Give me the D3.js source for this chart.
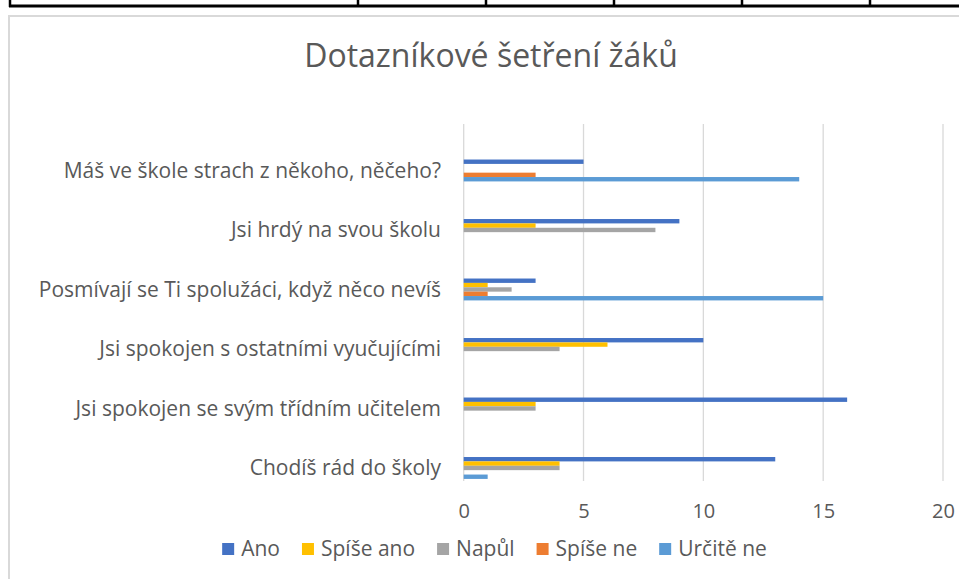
<!DOCTYPE html>
<html>
<head>
<meta charset="utf-8">
<script src="https://cdn.jsdelivr.net/npm/d3@7"></script>
<style>
  body { margin: 0; background: #fff; }
  svg text { font-family: "Open Sans", "Noto Sans", sans-serif; fill: #595959; }
</style>
</head>
<body>
<div id="chart"></div>
<script>
// categories, top to bottom
var categories = [
    "Máš ve škole strach z někoho, něčeho?",
    "Jsi hrdý na svou školu",
    "Posmívají se Ti spolužáci, když něco nevíš",
    "Jsi spokojen s ostatními vyučujícími",
    "Jsi spokojen se svým třídním učitelem",
    "Chodíš rád do školy"
];
var seriesNames = ["Ano", "Spíše ano", "Napůl", "Spíše ne", "Určitě ne"];
var ano      = [5, 9, 3, 10, 16, 13];
var spiseAno = [0, 3, 1, 6, 3, 4];
var napul    = [0, 8, 2, 4, 3, 4];
var spiseNe  = [3, 0, 1, 0, 0, 0];
var urciteNe = [14, 0, 15, 0, 0, 1];
var xTicks = [0, 5, 10, 15, 20];
var colors = ["#4472C4", "#FFC000", "#A5A5A5", "#ED7D31", "#5B9BD5"];
var title = "Dotazníkové šetření žáků";

var seriesValues = [ano, spiseAno, napul, spiseNe, urciteNe];

var svgWidth = 959, svgHeight = 579;
var svg = d3.select("#chart").append("svg")
    .attr("width", svgWidth)
    .attr("height", svgHeight);

// table border above the chart (from the document around it)
svg.append("line")
    .attr("x1", 9).attr("x2", svgWidth)
    .attr("y1", 6).attr("y2", 6)
    .attr("stroke", "#000").attr("stroke-width", 3);
[10, 358, 486, 614, 742, 870].forEach(function(x){
    svg.append("line")
        .attr("x1", x).attr("x2", x)
        .attr("y1", 0).attr("y2", 7)
        .attr("stroke", "#000").attr("stroke-width", 2.5);
});

// chart frame
svg.append("rect")
    .attr("x", 9).attr("y", 16)
    .attr("width", svgWidth).attr("height", svgHeight)
    .attr("fill", "#fff")
    .attr("stroke", "#d9d9d9").attr("stroke-width", 2);

// scales
var xScale = d3.scaleLinear().domain([0, 20]).range([463.7, 943]);
var yScale = d3.scaleBand().domain(categories).range([124, 481]);
var step = yScale.step();
var inner = d3.scaleBand().domain(seriesNames).range([step * 0.597, step * 0.965]);
var labelY = function(c){ return yScale(c) + (inner.range()[0] + inner.range()[1]) / 2; };

// title
svg.append("text")
    .attr("x", 491).attr("y", 67)
    .attr("text-anchor", "middle")
    .style("font-size", "32px")
    .text(title);

// gridlines
svg.append("g")
    .selectAll("line")
    .data(xTicks)
    .enter()
    .append("line")
        .attr("x1", d => xScale(d)).attr("x2", d => xScale(d))
        .attr("y1", yScale.range()[0]).attr("y2", yScale.range()[1])
        .attr("stroke", "#d9d9d9").attr("stroke-width", 1.3);

// bars
seriesNames.forEach(function(s, i){
    svg.append("g")
        .selectAll("rect")
        .data(categories.map((c, j) => ({cat: c, value: seriesValues[i][j]})))
        .enter()
        .append("rect")
            .attr("x", xScale(0))
            .attr("y", d => yScale(d.cat) + inner(s))
            .attr("width", d => xScale(d.value) - xScale(0))
            .attr("height", inner.bandwidth())
            .attr("fill", colors[i]);
});

// x axis tick labels
var xAxis = d3.axisBottom(xScale).tickValues(xTicks).tickSize(0).tickPadding(0);
var xg = svg.append("g")
    .attr("transform", "translate(0,518)")
    .call(xAxis);
xg.select(".domain").remove();
xg.selectAll("text")
    .attr("dy", null)
    .attr("y", 0)
    .attr("fill", "#595959")
    .style("font-family", "\"Open Sans\", sans-serif")
    .style("font-size", "20px");

// category labels
var labelGroup = svg.append("g");
labelGroup.selectAll("text")
    .data(categories)
    .enter()
    .append("text")
        .attr("x", 441)
        .attr("y", d => labelY(d))
        .attr("dy", "0.35em")
        .attr("text-anchor", "end")
        .style("font-size", "21px")
        .text(d => d);

// legend
var legend = svg.append("g");
var lx = 0;
seriesNames.forEach(function(s, i){
    var item = legend.append("g").attr("transform", `translate(${lx},0)`);
    item.append("rect")
        .attr("x", 0).attr("y", -6)
        .attr("width", 12).attr("height", 12)
        .attr("fill", colors[i]);
    var t = item.append("text")
        .attr("x", 19)
        .attr("y", 0)
        .attr("dy", "0.35em")
        .style("font-size", "21px")
        .text(s);
    lx += 19 + t.node().getComputedTextLength() + 22;
});
lx -= 22;
legend.attr("transform", `translate(${494.5 - lx / 2},549)`);
</script>
</body>
</html>
